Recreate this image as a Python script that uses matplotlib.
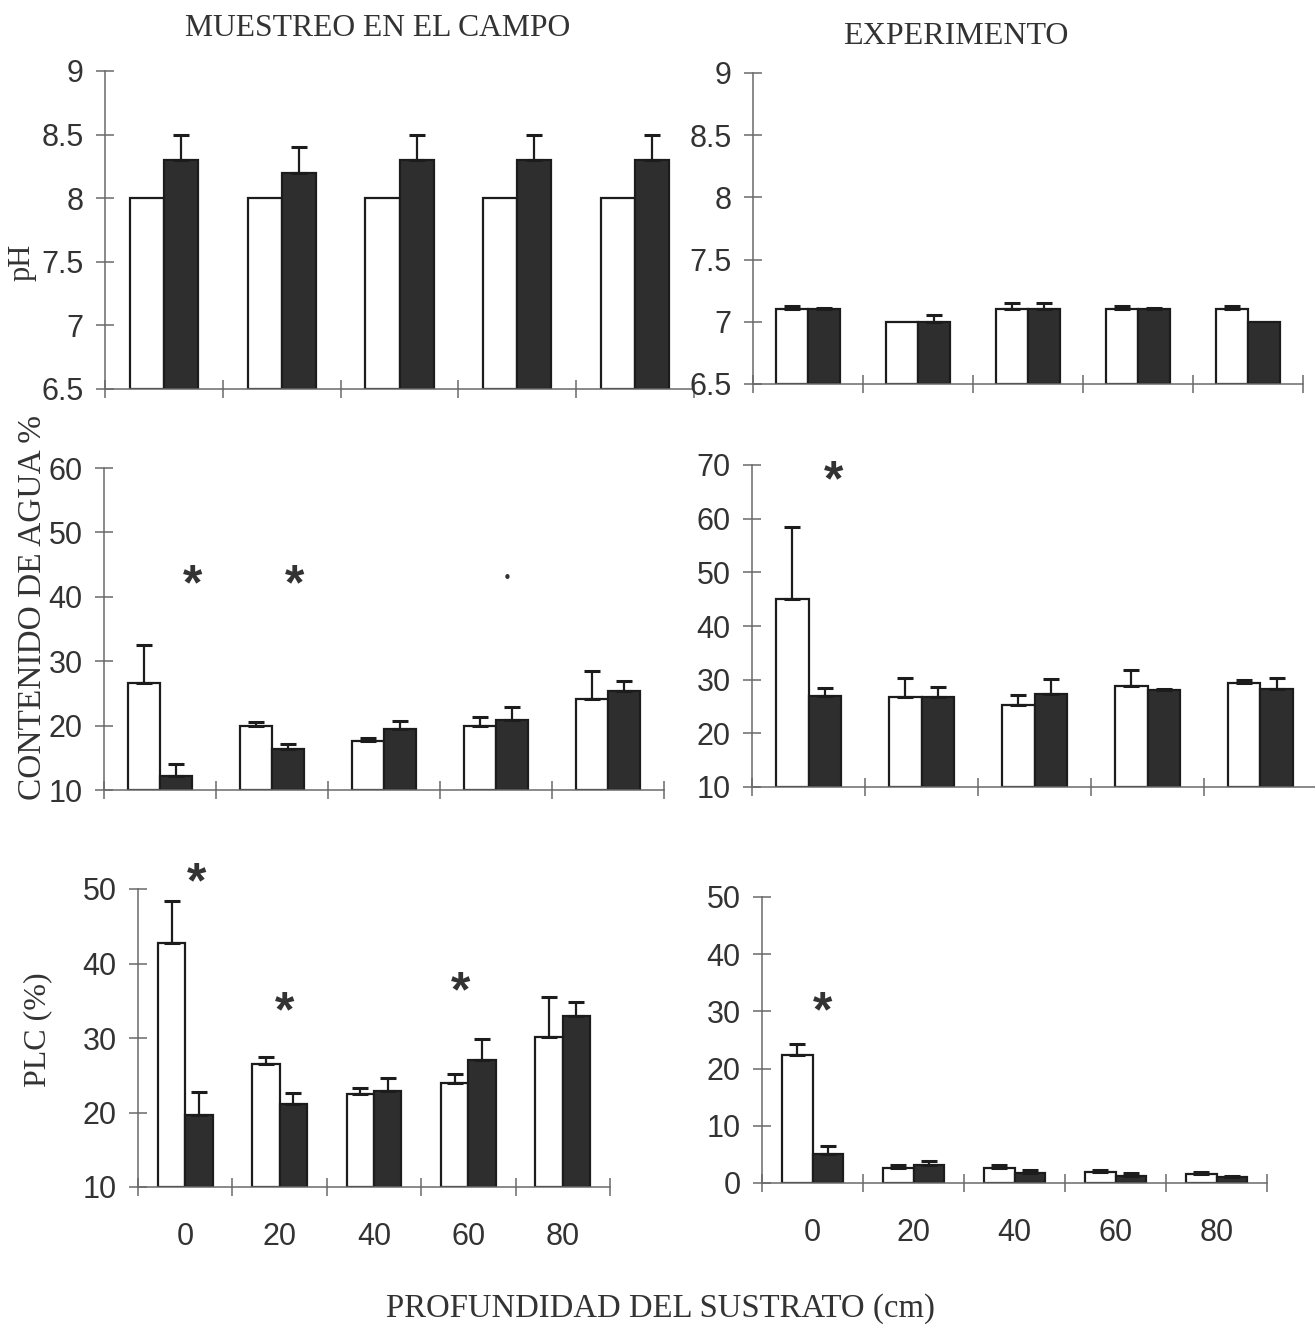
import matplotlib
matplotlib.use("Agg")
import matplotlib.pyplot as plt
import numpy as np

# ---------------- data ----------------
depths = ["0", "20", "40", "60", "80"]

ph_campo_white = [8.0, 8.0, 8.0, 8.0, 8.0]
ph_campo_white_err = [0.0, 0.0, 0.0, 0.0, 0.0]
ph_campo_black = [8.3, 8.2, 8.3, 8.3, 8.3]
ph_campo_black_err = [0.2, 0.2, 0.2, 0.2, 0.2]

ph_exp_white = [7.1, 7.0, 7.1, 7.1, 7.1]
ph_exp_white_err = [0.03, 0.0, 0.05, 0.03, 0.03]
ph_exp_black = [7.1, 7.0, 7.1, 7.1, 7.0]
ph_exp_black_err = [0.01, 0.055, 0.05, 0.01, 0.0]

agua_campo_white = [26.6, 19.9, 17.6, 19.9, 24.1]
agua_campo_white_err = [5.9, 0.6, 0.5, 1.5, 4.4]
agua_campo_black = [12.2, 16.4, 19.5, 20.8, 25.4]
agua_campo_black_err = [1.9, 0.8, 1.2, 2.1, 1.6]

agua_exp_white = [45.1, 26.7, 25.2, 28.8, 29.4]
agua_exp_white_err = [13.4, 3.7, 1.9, 3.0, 0.6]
agua_exp_black = [26.9, 26.7, 27.3, 28.0, 28.2]
agua_exp_black_err = [1.6, 2.0, 2.9, 0.3, 2.2]

plc_campo_white = [42.8, 26.5, 22.5, 23.9, 30.2]
plc_campo_white_err = [5.6, 0.9, 0.8, 1.3, 5.3]
plc_campo_black = [19.7, 21.2, 22.9, 27.1, 32.9]
plc_campo_black_err = [3.0, 1.4, 1.7, 2.7, 1.9]

plc_exp_white = [22.4, 2.6, 2.6, 1.9, 1.6]
plc_exp_white_err = [1.9, 0.6, 0.6, 0.4, 0.3]
plc_exp_black = [5.0, 3.1, 1.7, 1.3, 1.0]
plc_exp_black_err = [1.5, 0.7, 0.6, 0.4, 0.2]

# significance marks: (x in group units, y value)
sig_agua_campo = [(0.29, 42.7), (1.2, 42.7)]
mark_agua_campo = [(3.1, 42.9)]
sig_agua_exp = [(0.22, 68.1)]
sig_plc_campo = [(0.12, 51.5), (1.05, 34.2), (2.92, 36.9)]
sig_plc_exp = [(0.1, 30.8)]

# ---------------- style ----------------
W, H = 1315, 1329
fig = plt.figure(figsize=(W / 100, H / 100), dpi=100)
fig.patch.set_facecolor("white")

TEXT = "#333333"
AXC = "#6a6a6a"
EDGE = "#1c1c1c"
FILL = "#2e2e2e"
SANS = "Liberation Sans"
SERIF = "Liberation Serif"


def rect(l, r, top, bottom):
    return [l / W, 1 - bottom / H, (r - l) / W, (bottom - top) / H]


def errs(ax, xs, vals, err):
    xs = np.asarray(xs)
    vals = np.asarray(vals)
    err = np.asarray(err)
    m = err > 0
    if m.any():
        ax.errorbar(xs[m], vals[m], yerr=[np.zeros(m.sum()), err[m]],
                    fmt="none", ecolor=EDGE, elinewidth=1.6, capsize=6,
                    capthick=2.2, zorder=3)


def panel(r, white, werr, black, berr, ylim, yticks, ylabels, xlabels=False,
          width=0.29, sig=None):
    ax = fig.add_axes(r)
    x = np.arange(len(white))
    base = ylim[0]
    wh = np.array(white) - base
    bh = np.array(black) - base
    ax.bar(x - width / 2, wh, width, bottom=base, color="white",
           edgecolor=EDGE, linewidth=1.6, zorder=2)
    ax.bar(x + width / 2, bh, width, bottom=base, color=FILL,
           edgecolor=EDGE, linewidth=1.6, zorder=2)
    errs(ax, x - width / 2, white, werr)
    errs(ax, x + width / 2, black, berr)
    ax.set_xlim(-0.5, len(white) - 0.5)
    ax.set_ylim(*ylim)
    for s in ["top", "right"]:
        ax.spines[s].set_visible(False)
    for s in ["left", "bottom"]:
        ax.spines[s].set_color(AXC)
        ax.spines[s].set_linewidth(1.1)
    ax.set_yticks(yticks)
    ax.set_yticklabels(ylabels, fontsize=22, family=SANS, color=TEXT)
    ax.tick_params(axis="y", direction="inout", length=13, width=1.1,
                   color=AXC, pad=9)
    ax.set_xticks(np.arange(-0.5, len(white)))
    ax.set_xticklabels([""] * (len(white) + 1))
    ax.tick_params(axis="x", which="major", direction="inout", length=13,
                   width=1.1, color=AXC)
    if xlabels:
        ax.set_xticks(x, minor=True)
        ax.set_xticklabels(depths, minor=True, fontsize=22, family=SANS,
                           color=TEXT)
        ax.tick_params(axis="x", which="minor", length=0, pad=25)
    if sig:
        for xv, yv in sig:
            ax.annotate("*", (xv, yv), xytext=(0, -5),
                        textcoords="offset points", fontsize=36,
                        fontweight="bold", family=SANS, color=TEXT,
                        ha="center", va="center", zorder=4,
                        annotation_clip=False)
    ax.patch.set_alpha(0)
    return ax


# top row: pH
ph_ticks = [6.5, 7, 7.5, 8, 8.5, 9]
ph_labels = ["6.5", "7", "7.5", "8", "8.5", "9"]
panel(rect(105, 694, 71, 389), ph_campo_white, ph_campo_white_err,
      ph_campo_black, ph_campo_black_err, (6.5, 9), ph_ticks, ph_labels)
panel(rect(753, 1303, 73, 384), ph_exp_white, ph_exp_white_err,
      ph_exp_black, ph_exp_black_err, (6.5, 9), ph_ticks, ph_labels)

# middle row: water content
ax_ml = panel(rect(104, 664, 468, 790), agua_campo_white, agua_campo_white_err,
              agua_campo_black, agua_campo_black_err, (10, 60),
              [10, 20, 30, 40, 50, 60], ["10", "20", "30", "40", "50", "60"],
              sig=sig_agua_campo)
for xv, yv in mark_agua_campo:
    ax_ml.text(xv, yv, "\u2022", fontsize=11, color=TEXT,
               ha="center", va="center")
panel(rect(752, 1317, 465, 787), agua_exp_white, agua_exp_white_err,
      agua_exp_black, agua_exp_black_err, (10, 70),
      [10, 20, 30, 40, 50, 60, 70],
      ["10", "20", "30", "40", "50", "60", "70"], sig=sig_agua_exp)

# bottom row: PLC
panel(rect(138, 610, 889, 1187), plc_campo_white, plc_campo_white_err,
      plc_campo_black, plc_campo_black_err, (10, 50),
      [10, 20, 30, 40, 50], ["10", "20", "30", "40", "50"], xlabels=True,
      sig=sig_plc_campo)
panel(rect(762, 1267, 897, 1183), plc_exp_white, plc_exp_white_err,
      plc_exp_black, plc_exp_black_err, (0, 50),
      [0, 10, 20, 30, 40, 50], ["0", "10", "20", "30", "40", "50"],
      xlabels=True, width=0.3, sig=sig_plc_exp)

# titles and labels
fig.text(378 / W, 1 - 29 / H, "MUESTREO EN EL CAMPO", fontsize=22.8,
         family=SERIF, color=TEXT, ha="center", va="center")
fig.text(956 / W, 1 - 36 / H, "EXPERIMENTO", fontsize=23, family=SERIF,
         color=TEXT, ha="center", va="center")
fig.text(660 / W, 1 - 1309 / H, "PROFUNDIDAD DEL SUSTRATO (cm)",
         fontsize=23.6, family=SERIF, color=TEXT, ha="center", va="center")
fig.text(22 / W, 1 - 262 / H, "pH", fontsize=22, family=SERIF, color=TEXT,
         ha="center", va="center", rotation=90)
fig.text(33 / W, 1 - 607 / H, "CONTENIDO DE AGUA %", fontsize=24,
         family=SERIF, color=TEXT, ha="center", va="center", rotation=90)
fig.text(38 / W, 1 - 1030 / H, "PLC (%)", fontsize=23, family=SERIF,
         color=TEXT, ha="center", va="center", rotation=90)

fig.savefig("out.png", dpi=100, facecolor="white")
